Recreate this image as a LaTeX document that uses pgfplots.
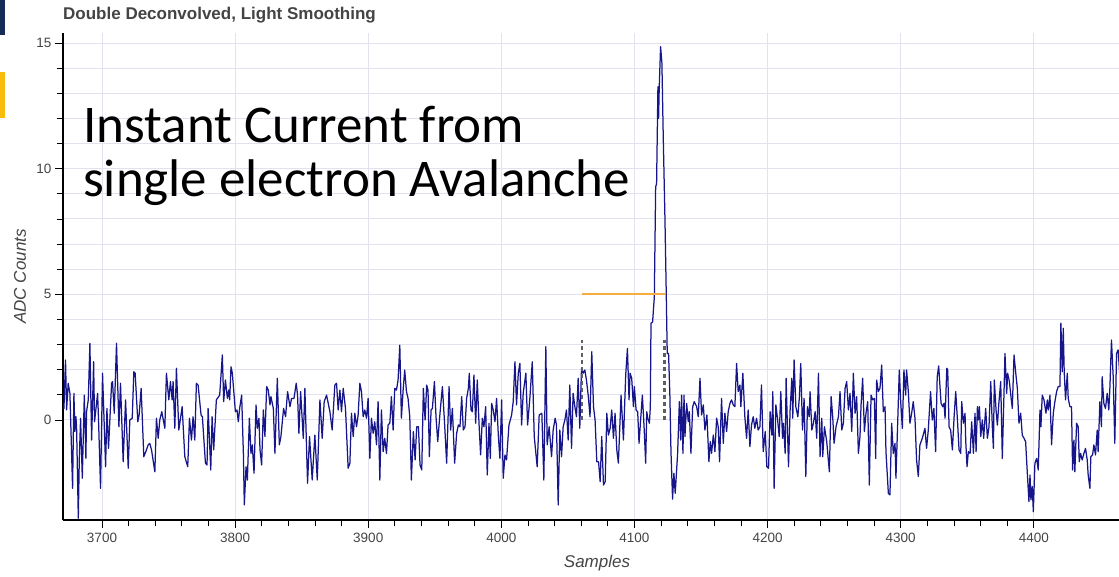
\documentclass[border=0pt]{standalone}
\usepackage{fontspec}
\setmainfont{Liberation Sans}
\newfontfamily\carlito{Carlito}
\usepackage{pgfplots}
\pgfplotsset{compat=1.18}
\definecolor{navyline}{RGB}{22,22,138}
\definecolor{gridc}{RGB}{225,225,240}
\definecolor{tickc}{RGB}{68,68,68}
\definecolor{orangec}{RGB}{246,172,62}
\definecolor{dashc}{RGB}{95,95,95}
\definecolor{slidenavy}{RGB}{22,44,88}
\definecolor{slidegold}{RGB}{250,188,10}
\begin{document}
\begin{tikzpicture}
\path[use as bounding box] (0,0) rectangle (1119pt,576pt);
\fill[slidenavy] (0,541pt) rectangle (5pt,576pt);
\fill[slidegold] (0,458pt) rectangle (5pt,504pt);
\begin{axis}[
  at={(63pt,56pt)}, anchor=south west,
  scale only axis, width=1068pt, height=487pt,
  xmin=3670.7, xmax=4473, ymin=-3.98, ymax=15.4,
  axis x line*=bottom, axis y line*=left,
  axis line style={-, black, line width=1.1pt},
  xtick={3700,3800,...,4400}, minor x tick num=4,
  ytick={0,5,10,15}, minor y tick num=4,
  tick align=outside, major tick length=8pt, minor tick length=6pt,
  tick style={black, line width=0.9pt},
  xmajorgrids, ymajorgrids, yminorgrids,
  major grid style={gridc, line width=1pt},
  minor grid style={gridc, line width=1pt},
  ticklabel style={font=\fontsize{13.5}{15}\selectfont, text=tickc},
  /pgf/number format/assume math mode=true,
  /pgf/number format/1000 sep={},
  xticklabel shift=2pt,
  xlabel={Samples}, ylabel={ADC Counts},
  label style={font=\itshape\fontsize{17}{19}\selectfont, text=tickc},
  xlabel style={at={(axis description cs:0.5,-0.088)}, anchor=center},
  ylabel style={at={(axis description cs:-0.0403,0.5)}, anchor=center, rotate=0},
  clip=true,
]
\addplot[navyline, line width=1.25pt, line join=round] table {
3670.8 0.5
3671.4 0.46
3672.6 2.39
3673.4 0.40
3674.6 1.46
3675.9 1.06
3677.9 -2.72
3678.9 1.06
3679.6 -0.46
3680.4 0.13
3680.9 -0.27
3682.2 -3.91
3682.9 -1.66
3683.9 0.07
3685.2 -2.32
3686.7 0.99
3687.9 -1.53
3688.4 0.33
3689.7 0.80
3690.9 3.05
3692.2 -0.80
3693.7 2.32
3694.4 -0.07
3696.7 1.06
3697.4 0.00
3698.9 -2.72
3700.4 1.86
3702.7 -1.86
3703.7 0.46
3704.9 -1.13
3707.2 1.46
3707.9 1.53
3709.2 0.27
3710.9 3.05
3712.7 -0.27
3713.9 1.46
3715.9 -1.66
3717.7 0.80
3719.7 -1.92
3720.9 0.00
3722.7 0.07
3723.9 1.92
3724.9 1.86
3726.9 -0.07
3727.9 0.20
3729.4 1.26
3731.4 -1.46
3732.9 -1.26
3734.7 -0.99
3735.9 -0.93
3737.2 -1.19
3739.7 -2.06
3740.9 0.07
3742.2 -0.73
3743.4 0.00
3744.9 0.33
3747.2 -0.33
3748.4 1.86
3750.2 0.80
3751.4 1.53
3752.7 0.80
3753.4 1.53
3754.7 -0.33
3755.9 2.06
3757.7 -0.40
3760.2 0.53
3762.2 -1.46
3764.4 -1.86
3765.7 0.07
3767.2 -0.80
3768.4 0.13
3769.7 -0.80
3770.9 1.46
3772.2 1.39
3774.4 0.20
3775.4 0.13
3777.7 -1.72
3778.9 -1.79
3779.7 0.46
3781.7 -1.99
3782.7 0.13
3783.9 -1.19
3785.9 0.80
3788.4 0.99
3790.4 2.59
3791.4 0.73
3792.7 1.59
3794.2 0.86
3795.2 1.19
3795.9 0.80
3796.9 2.12
3797.9 1.86
3800.2 0.33
3801.4 0.40
3802.4 -0.07
3803.4 0.46
3804.9 0.99
3806.2 -1.33
3806.9 -3.38
3808.2 -1.86
3809.2 -2.39
3810.7 0.07
3811.9 -1.33
3812.9 -0.99
3814.2 -2.12
3815.7 0.60
3816.7 -0.33
3817.9 0.07
3818.7 -1.19
3819.9 -1.79
3821.2 0.40
3822.4 -0.66
3823.7 1.33
3824.9 1.19
3826.2 0.60
3826.9 0.93
3828.7 0.46
3829.9 -1.33
3831.7 1.66
3833.2 -0.99
3834.4 -0.66
3836.4 0.46
3837.9 0.13
3839.4 1.13
3841.2 0.53
3842.4 0.86
3844.2 0.86
3845.9 1.46
3846.9 0.99
3847.9 -0.53
3849.2 1.13
3851.2 -0.73
3852.4 1.26
3854.4 -2.52
3855.9 -0.66
3857.9 -2.39
3859.9 -0.60
3861.7 -2.39
3863.7 0.80
3865.4 -0.73
3866.9 0.73
3868.7 0.99
3871.2 0.33
3872.9 -0.40
3874.9 1.39
3876.2 1.46
3877.4 0.40
3878.7 1.19
3879.9 0.33
3881.2 1.26
3882.9 0.46
3884.9 -1.92
3886.2 -1.72
3887.4 0.27
3888.7 -0.66
3889.9 0.27
3891.2 -0.27
3892.4 0.20
3893.7 1.46
3894.9 1.13
3896.2 0.13
3897.4 0.40
3898.7 0.07
3899.9 0.86
3901.2 -1.53
3902.4 0.07
3903.7 -0.53
3904.9 -0.07
3906.2 -0.99
3907.4 0.73
3908.7 -2.39
3909.9 0.40
3911.2 -1.26
3912.4 -0.73
3913.7 -1.33
3914.9 -0.20
3916.2 -0.13
3917.4 0.93
3918.7 -0.40
3919.9 1.26
3921.2 1.19
3922.4 1.59
3923.7 2.98
3924.9 0.07
3926.2 1.19
3927.4 1.99
3928.7 1.13
3929.9 0.86
3931.2 0.13
3932.4 -2.39
3933.9 -0.46
3935.2 -1.59
3936.4 -0.27
3937.7 -0.27
3938.9 -1.79
3940.2 -1.99
3941.4 1.26
3942.7 0.00
3943.9 1.39
3944.9 1.19
3945.9 -1.46
3947.2 0.40
3948.2 0.46
3949.7 1.53
3950.9 0.13
3952.2 -0.86
3953.9 0.27
3955.7 1.33
3957.2 0.00
3958.9 -1.72
3960.7 1.33
3961.9 -0.40
3963.2 0.46
3964.9 -1.72
3966.4 -0.53
3967.7 -0.20
3968.9 -0.27
3970.2 0.93
3971.4 -0.40
3972.7 -0.27
3973.9 0.86
3975.2 1.26
3975.9 1.86
3977.2 0.40
3978.2 0.33
3979.4 1.79
3980.7 -0.13
3981.9 1.59
3983.2 -0.13
3984.4 -1.39
3985.7 0.07
3986.9 -0.27
3988.2 0.53
3989.4 -2.19
3990.7 -0.13
3991.7 -1.53
3992.7 0.66
3993.9 0.40
3995.2 -0.07
3996.4 0.86
3997.7 -0.60
3998.9 -1.53
4000.2 0.80
4001.4 -2.32
4002.7 -1.39
4003.9 -1.59
4005.7 -0.20
4007.7 0.20
4008.9 0.73
4010.2 2.32
4011.4 0.60
4012.7 1.86
4013.9 2.25
4015.2 -0.20
4016.4 1.06
4018.4 1.86
4019.7 -0.20
4021.4 0.86
4023.2 2.32
4024.7 -0.66
4026.9 -1.86
4028.4 0.20
4030.4 0.27
4031.9 -2.39
4033.4 2.92
4034.4 -0.99
4035.9 -0.27
4037.7 -1.46
4038.9 -0.40
4040.4 0.07
4041.4 -0.20
4042.7 -3.38
4043.9 -0.40
4045.2 -1.46
4046.4 -0.27
4047.7 0.00
4048.9 0.40
4050.2 -0.80
4051.4 1.39
4052.7 -1.13
4053.9 1.06
4055.2 0.53
4056.4 0.13
4057.7 1.66
4058.9 -0.33
4060.2 2.06
4061.4 1.86
4062.7 1.99
4063.9 1.59
4065.2 1.00
4066.6 0.13
4067.9 2.72
4069.2 0.53
4070.4 0.00
4071.7 -1.66
4073.0 -1.66
4074.2 -2.45
4075.4 -0.66
4076.7 -2.59
4078.0 -2.45
4079.2 0.27
4080.4 -0.60
4081.7 -0.33
4082.9 0.40
4084.2 -0.73
4085.4 0.27
4086.7 -1.19
4087.9 -1.72
4089.9 0.99
4091.7 -0.80
4093.4 1.79
4094.7 2.85
4095.9 0.80
4096.7 1.86
4097.9 1.66
4099.2 0.53
4099.9 1.33
4101.2 0.40
4102.4 0.33
4103.4 -0.93
4104.7 0.07
4105.9 0.99
4107.2 -0.27
4108.4 -1.72
4109.2 0.33
4110.0 0.07
4111.2 -0.13
4111.9 0.53
4112.4 3.85
4113.6 3.90
4114.9 4.90
4115.9 9.28
4116.6 9.40
4117.6 13.26
4118.1 12.00
4118.6 13.26
4119.6 14.86
4120.6 14.20
4121.6 11.27
4122.9 7.96
4123.9 4.90
4124.6 2.65
4125.6 2.65
4126.6 0.93
4127.4 -1.25
4128.6 -3.15
4129.6 -2.12
4130.6 -2.92
4132.4 -1.33
4133.7 0.73
4134.7 -0.80
4135.4 0.99
4136.4 -1.33
4137.2 0.99
4137.9 -0.66
4139.2 0.66
4140.4 -0.07
4141.2 0.33
4142.4 -1.33
4143.7 0.53
4144.9 0.73
4146.7 0.53
4147.9 0.13
4149.2 1.66
4150.4 0.20
4151.7 0.60
4152.9 -0.40
4154.4 0.20
4155.9 -1.66
4156.9 -0.86
4157.9 -1.33
4159.2 -0.60
4160.4 -1.26
4161.7 0.07
4162.9 -0.27
4163.9 -1.66
4165.4 0.86
4166.7 -0.93
4167.9 0.27
4169.2 -0.46
4170.4 0.33
4171.7 0.66
4172.9 0.80
4174.2 0.60
4175.4 0.53
4176.7 2.25
4177.9 1.13
4179.2 1.39
4179.9 0.53
4181.4 1.86
4182.9 0.13
4184.2 -0.73
4185.4 0.40
4186.7 -1.06
4187.9 -0.20
4189.2 0.13
4190.4 -0.33
4191.7 0.07
4192.9 -0.40
4194.2 -0.27
4195.4 1.39
4196.7 -1.26
4198.2 -0.46
4199.4 -1.86
4200.7 -1.92
4201.9 0.33
4203.2 -0.60
4203.9 1.13
4204.9 -2.72
4206.2 0.60
4207.4 0.07
4208.7 -0.66
4209.9 1.13
4211.2 -0.73
4211.9 -0.13
4213.2 -1.33
4213.9 1.66
4215.7 -1.86
4216.9 0.40
4218.2 1.66
4218.9 0.07
4219.9 2.39
4221.2 0.53
4222.7 0.13
4223.9 0.93
4224.9 2.25
4226.2 -0.40
4227.4 0.86
4228.7 -2.25
4229.9 0.53
4231.2 0.13
4231.9 1.13
4233.2 -0.40
4234.4 -0.13
4235.7 0.33
4236.9 -0.73
4238.2 1.86
4239.4 -1.46
4240.7 0.07
4241.4 -1.46
4242.7 -0.27
4244.4 -0.86
4246.4 -2.06
4247.7 0.93
4248.9 0.13
4249.9 -0.93
4251.4 -0.27
4253.2 0.13
4254.4 1.13
4255.7 -0.40
4256.9 -0.13
4258.2 1.26
4259.4 1.53
4260.7 0.40
4261.9 1.06
4263.2 -0.46
4264.4 1.86
4265.7 0.27
4266.9 0.93
4268.2 -1.33
4269.4 -0.66
4270.2 0.60
4271.4 1.66
4272.7 -0.46
4273.9 0.27
4275.2 0.73
4276.4 -2.59
4277.7 0.99
4278.9 0.80
4280.2 0.86
4281.2 -1.53
4281.9 1.59
4283.2 1.13
4284.4 1.26
4285.7 2.19
4286.9 0.33
4288.2 0.53
4288.9 -1.26
4290.7 -2.92
4291.9 -2.98
4293.2 -0.13
4294.4 -1.33
4295.7 -0.93
4296.4 -2.32
4297.7 -0.13
4298.9 1.99
4299.9 0.80
4301.2 -0.33
4302.4 1.99
4303.7 0.99
4304.4 1.99
4305.7 1.13
4306.9 -0.13
4308.2 0.27
4309.4 0.73
4310.7 0.07
4311.9 -1.59
4313.2 -2.25
4314.4 -0.99
4316.2 -0.73
4318.2 -0.33
4319.4 -1.13
4320.7 -0.40
4322.4 1.13
4323.7 0.00
4324.9 0.46
4326.2 -1.26
4327.4 1.72
4328.5 2.15
4330.3 0.66
4331.5 0.53
4332.5 0.66
4333.3 0.07
4334.6 2.06
4335.3 1.99
4336.3 -0.27
4337.5 -0.40
4338.8 -1.19
4340.1 0.13
4341.3 1.13
4342.6 0.00
4343.8 -1.19
4345.1 -1.33
4345.8 0.73
4347.1 -0.13
4348.3 0.27
4348.8 -0.80
4349.8 -1.86
4350.8 -1.26
4352.1 -1.33
4353.3 -0.07
4354.6 -1.33
4355.8 0.27
4356.6 -1.26
4357.6 0.53
4358.3 0.00
4359.1 0.53
4360.1 -0.66
4361.3 0.00
4362.3 -0.73
4363.8 0.46
4365.1 -0.73
4366.3 -0.27
4367.6 1.53
4368.8 -0.27
4369.6 -1.13
4370.3 1.59
4371.6 0.40
4372.6 -0.20
4373.8 0.73
4375.1 1.53
4376.3 -1.53
4377.6 1.13
4378.3 2.65
4379.6 1.06
4380.3 1.86
4381.6 1.53
4382.8 0.93
4383.8 0.46
4385.1 2.59
4386.3 1.92
4387.6 1.26
4388.8 -0.13
4390.1 0.27
4391.3 -0.60
4392.6 -0.73
4393.8 -0.86
4395.1 -2.12
4396.3 -3.25
4397.1 -2.19
4397.8 -3.18
4398.8 -2.65
4399.6 -3.65
4400.8 -1.72
4402.1 -1.53
4403.3 -1.99
4404.6 0.40
4405.3 -0.27
4406.3 0.99
4407.6 0.80
4409.1 0.27
4410.1 0.80
4410.8 0.40
4412.1 0.99
4413.3 -0.99
4414.6 0.27
4415.8 0.73
4417.1 1.13
4418.3 1.33
4419.6 1.33
4420.3 3.85
4421.3 1.92
4422.1 3.65
4422.8 1.92
4423.8 0.80
4425.1 1.86
4425.8 0.86
4427.1 0.53
4428.3 0.53
4429.1 -1.99
4430.1 -0.80
4430.8 -2.06
4432.1 -0.13
4433.3 -0.27
4434.1 -1.66
4435.1 -1.33
4436.3 -1.59
4437.6 -1.33
4438.8 -1.13
4440.1 -1.59
4440.8 -2.19
4442.1 -2.72
4442.8 -1.46
4444.1 -1.39
4445.1 -0.99
4446.3 -1.39
4447.6 -0.40
4448.3 -1.26
4449.6 0.73
4450.8 -0.27
4451.3 1.72
4452.6 0.66
4453.8 0.46
4455.1 1.06
4456.3 0.40
4457.1 1.26
4458.3 3.18
4459.6 1.72
4460.8 -0.93
4462.1 2.65
4463.3 2.79
4465.0 1.40
4467.0 0.30
4469.0 1.10
4471.0 0.50
4473.0 0.90
};
\addplot[orangec, line width=2pt] coordinates {(4060.4,5) (4123,5)};
\addplot[dashc, line width=2.4pt, dash pattern=on 4pt off 3pt] coordinates {(4060.4,0) (4060.4,3.2)};
\addplot[dashc, line width=2.4pt, dash pattern=on 4pt off 3pt] coordinates {(4122.5,0) (4122.5,3.2)};
\end{axis}
\node[anchor=west, inner sep=0, font=\bfseries\fontsize{17}{19}\selectfont, text=tickc] at (63pt,561pt) {Double Deconvolved, Light Smoothing};
\node[anchor=base west, inner sep=0, font=\carlito\fontsize{53}{54}\selectfont] at (83pt,433pt) {Instant Current from};
\node[anchor=base west, inner sep=0, font=\carlito\fontsize{53}{54}\selectfont] at (83pt,379pt) {single electron Avalanche};
\end{tikzpicture}
\end{document}
